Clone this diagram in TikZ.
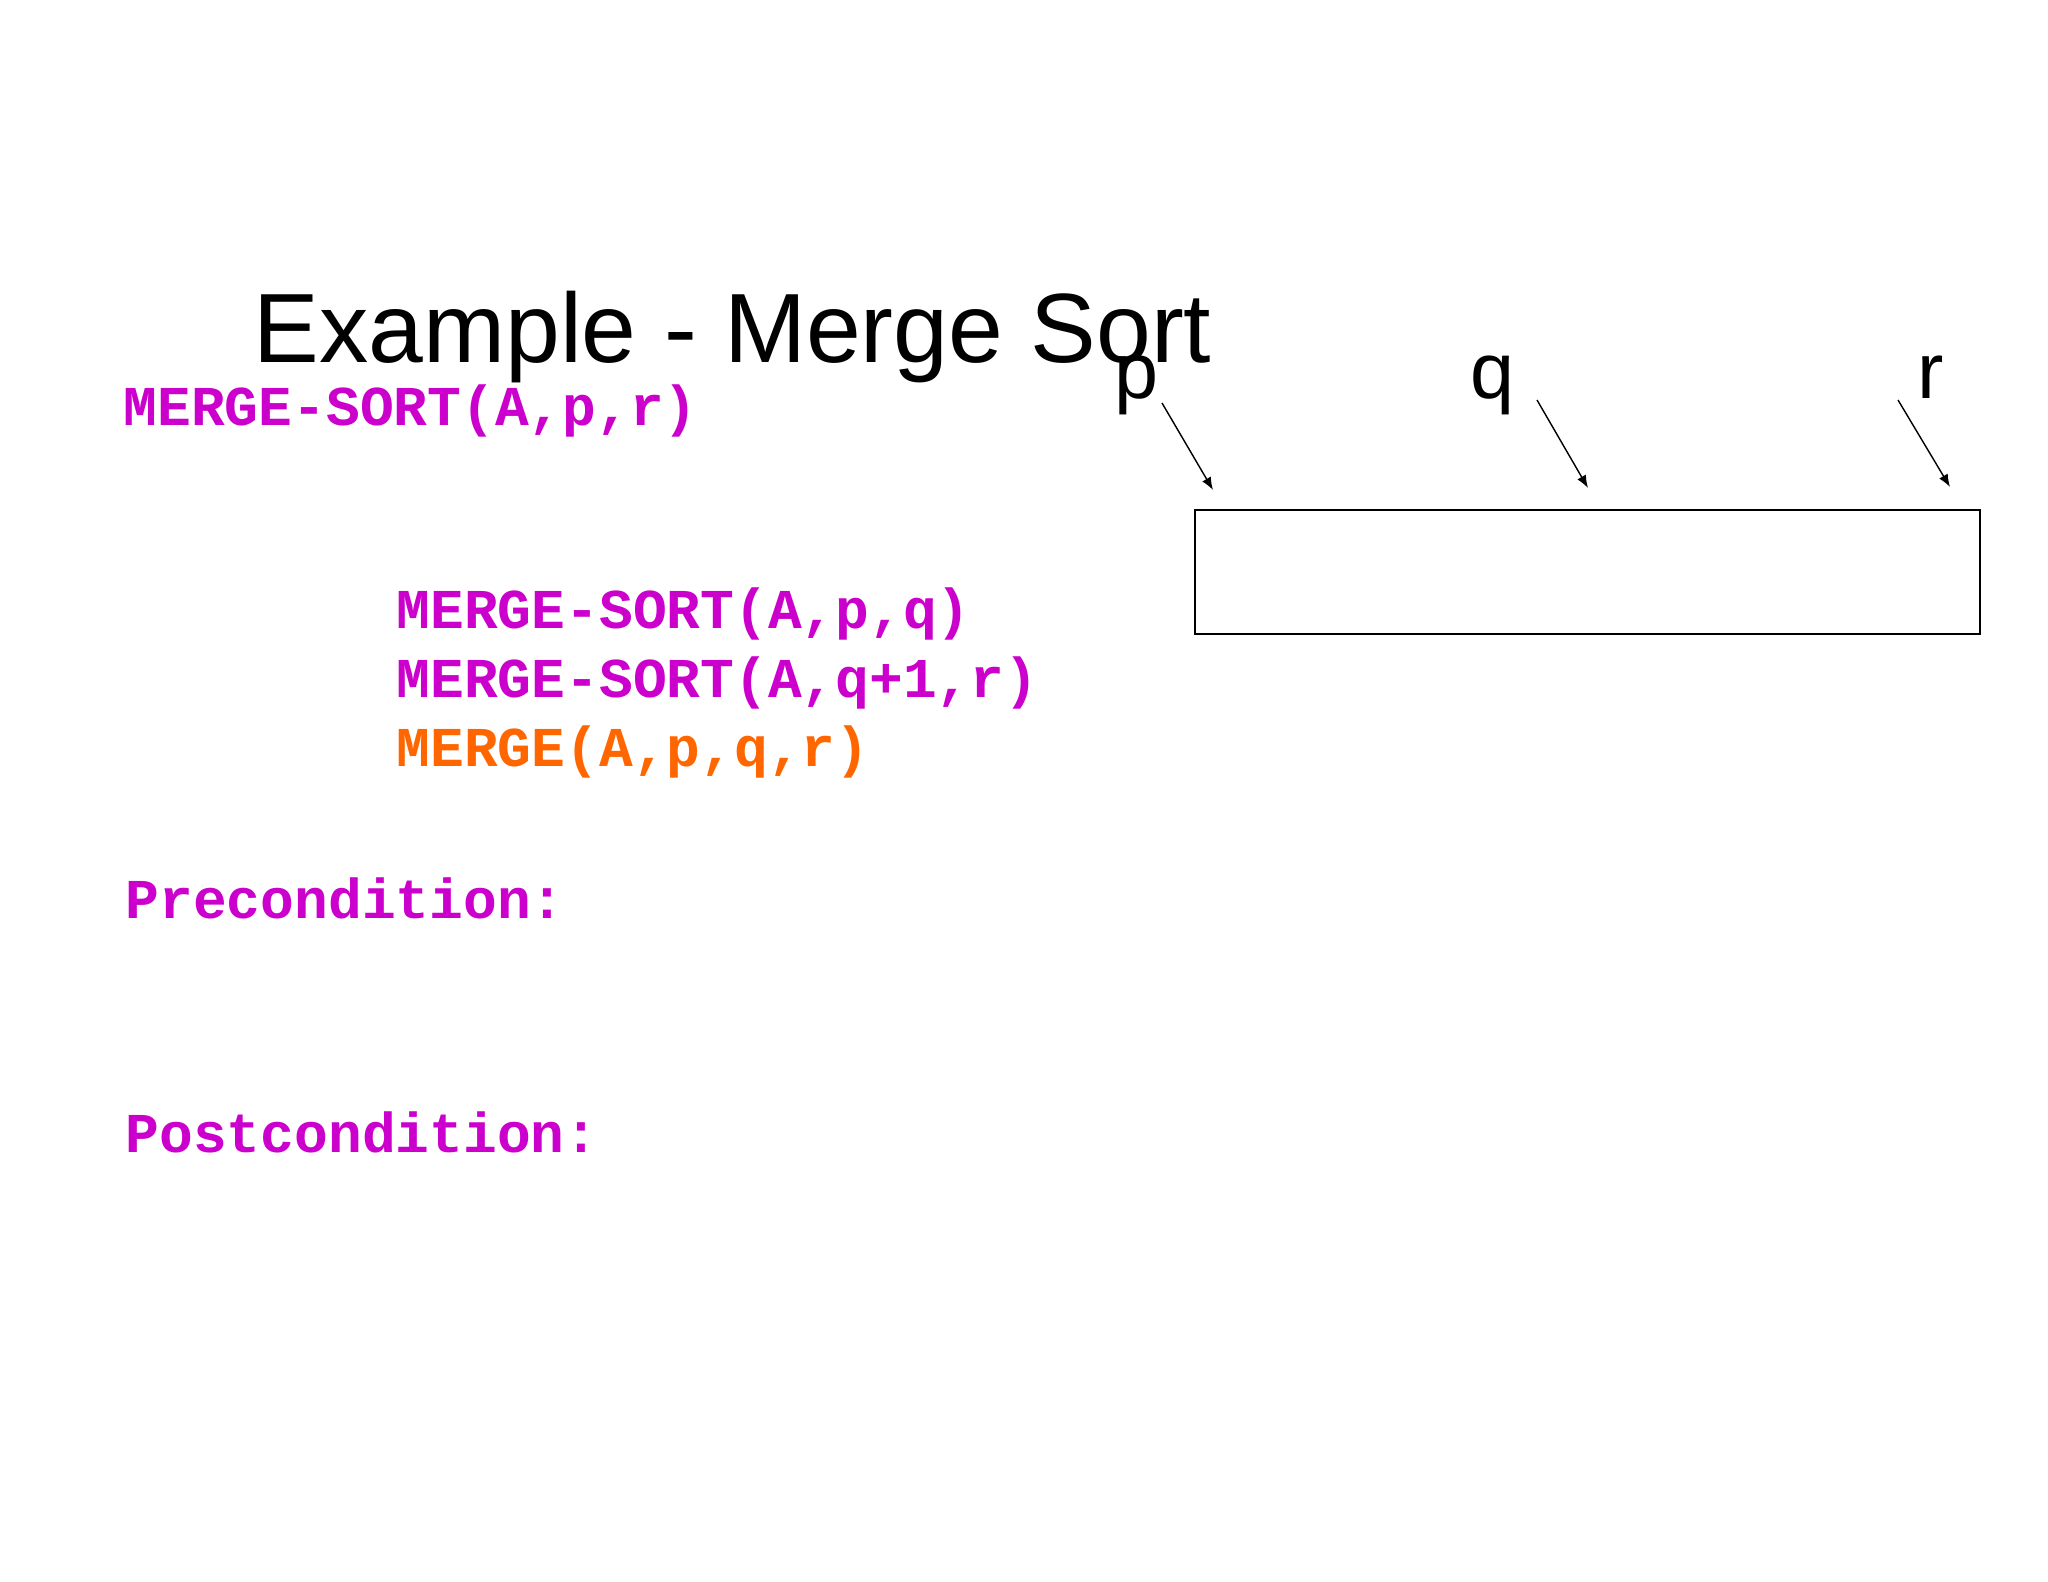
\documentclass[tikz,border=0pt]{standalone}
\usepackage{fontspec}
\usetikzlibrary{arrows.meta}
\setmainfont{Liberation Sans}
\newfontfamily\codefont{Liberation Mono}
\definecolor{codepink}{RGB}{204,0,204}
\definecolor{codeorange}{RGB}{255,102,0}
\tikzset{
  code/.style={anchor=base west,inner sep=0pt,font=\codefont\bfseries\fontsize{16}{18}\selectfont,text=codepink},
  idx/.style={anchor=base,inner sep=0pt,font=\fontsize{22.5}{26}\selectfont},
  ptr/.style={-{Latex[length=3.6pt,width=2.8pt]}}
}
\begin{document}
\begin{tikzpicture}[x=0.01cm,y=-0.01cm]
    \useasboundingbox (0,0) rectangle (2048,1582);
    \node[anchor=base west,inner sep=0pt,font=\fontsize{28}{32}\selectfont] (title) at (253,362) {Example - Merge Sort};
    \node[code] (call) at (123,425) {MERGE-SORT(A,p,r)};
    \node[code] (left) at (396,628) {MERGE-SORT(A,p,q)};
    \node[code] (right) at (396,697) {MERGE-SORT(A,q+1,r)};
    \node[code,text=codeorange] (merge) at (396,766) {MERGE(A,p,q,r)};
    \node[code] (pre) at (125,918) {Precondition:};
    \node[code] (post) at (125,1152) {Postcondition:};
    \draw (1195,510) rectangle (1980,634);
    \node[idx] (p) at (1136,398) {p};
    \node[idx] (q) at (1492,398) {q};
    \node[idx] (r) at (1931,398) {r};
    \coordinate (pTip) at (1213,490);
    \coordinate (qTip) at (1588,488);
    \coordinate (rTip) at (1950,487);
    \draw[ptr] (1162,403) -- (pTip);
    \draw[ptr] (1537,400) -- (qTip);
    \draw[ptr] (1898,400) -- (rTip);
\end{tikzpicture}
\end{document}
